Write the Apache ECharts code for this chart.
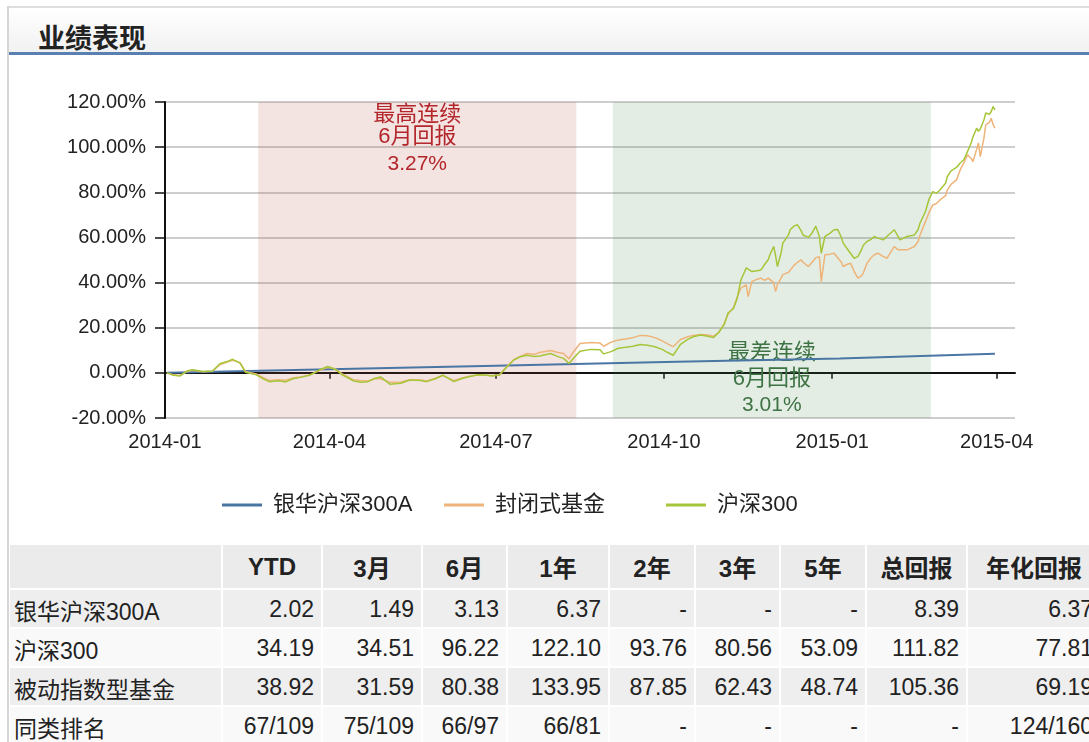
<!DOCTYPE html>
<html>
<head>
<meta charset="utf-8">
<title>业绩表现</title>
<script src="https://cdn.jsdelivr.net/npm/echarts@6/dist/echarts.min.js"></script>
<style>
  html, body { margin: 0; padding: 0; background: #fff; width: 1089px; height: 742px; overflow: hidden; }
  body { position: relative; font-family: "Liberation Sans", Arial, "Noto Sans CJK SC", sans-serif; color: #222; }
  .frame-left { position: absolute; left: 7px; top: 6px; width: 2px; bottom: 0; background: #d6d6d6; }
  .panel-head {
    position: absolute; left: 9px; top: 6px; right: 0; height: 44px;
    border-top: 2px solid #dedede; border-bottom: 3px solid #5a80b2;
    background: linear-gradient(#ffffff, #f1f1f1);
  }
  .panel-head h2 {
    position: absolute; left: 29px; top: 0; margin: 0;
    line-height: 57px; font-size: 27px; font-weight: bold; color: #222;
    font-family: "Noto Sans CJK SC", sans-serif;
  }
  #chart { position: absolute; left: 0; top: 0; width: 1089px; height: 540px; }
  table.perf {
    position: absolute; left: 8px; top: 543px; width: 1094px;
    border-collapse: separate; border-spacing: 2px;
    table-layout: fixed; font-size: 23px; color: #222;
  }
  table.perf td, table.perf th { box-sizing: border-box; padding: 0 7px; white-space: nowrap; overflow: hidden; }
  table.perf th { height: 43px; background: #ebebeb; font-weight: bold; font-size: 24px; text-align: center; }
  table.perf td { height: 37px; padding-top: 2px; text-align: right; }
  table.perf td.name { text-align: left; padding-left: 4px; }
  table.perf tr.odd td { background: #eeeeee; }
  table.perf tr.even td { background: #f9f9f9; }
</style>
</head>
<body>
<div class="frame-left"></div>
<div class="panel-head"><h2>业绩表现</h2></div>
<div id="chart"></div>
<table class="perf" id="perf"></table>
<script>
// 累计收益走势 (%)
const tickMonths = ['2014-01', '2014-04', '2014-07', '2014-10', '2015-01', '2015-04']
const xRange = ['2014-01-01', '2015-04-11']

const dates = [
  '2014-01-02', '2014-01-05', '2014-01-09', '2014-01-13', '2014-01-16', '2014-01-22', '2014-01-27', '2014-01-31',
  '2014-02-04', '2014-02-07', '2014-02-11', '2014-02-14', '2014-02-20', '2014-02-24', '2014-02-27',
  '2014-03-04', '2014-03-08', '2014-03-12', '2014-03-16', '2014-03-21', '2014-03-27', '2014-03-31',
  '2014-04-04', '2014-04-08', '2014-04-14', '2014-04-18', '2014-04-22', '2014-04-26', '2014-04-29',
  '2014-05-04', '2014-05-10', '2014-05-15', '2014-05-21', '2014-05-24', '2014-05-29',
  '2014-06-02', '2014-06-08', '2014-06-13', '2014-06-17', '2014-06-21', '2014-06-25', '2014-06-29',
  '2014-07-03', '2014-07-07', '2014-07-11', '2014-07-14', '2014-07-18', '2014-07-22', '2014-07-25', '2014-07-31',
  '2014-08-04', '2014-08-07', '2014-08-10', '2014-08-12', '2014-08-16', '2014-08-22', '2014-08-27', '2014-08-29',
  '2014-09-02', '2014-09-06', '2014-09-10', '2014-09-14', '2014-09-18', '2014-09-22', '2014-09-26', '2014-09-30',
  '2014-10-03', '2014-10-06', '2014-10-10', '2014-10-14', '2014-10-17', '2014-10-21', '2014-10-25', '2014-10-28', '2014-10-31',
  '2014-11-03', '2014-11-05', '2014-11-08', '2014-11-10', '2014-11-12', '2014-11-15', '2014-11-16', '2014-11-18',
  '2014-11-21', '2014-11-23', '2014-11-25', '2014-11-27', '2014-11-28', '2014-11-30',
  '2014-12-01', '2014-12-02', '2014-12-04', '2014-12-05', '2014-12-08', '2014-12-09', '2014-12-11', '2014-12-13',
  '2014-12-15', '2014-12-16', '2014-12-19', '2014-12-21', '2014-12-23', '2014-12-25', '2014-12-26', '2014-12-28', '2014-12-31',
  '2015-01-02', '2015-01-04', '2015-01-06', '2015-01-07', '2015-01-09', '2015-01-11', '2015-01-13', '2015-01-15',
  '2015-01-17', '2015-01-18', '2015-01-20', '2015-01-22', '2015-01-24', '2015-01-26', '2015-01-29', '2015-01-31',
  '2015-02-04', '2015-02-06', '2015-02-07', '2015-02-11', '2015-02-15', '2015-02-17', '2015-02-18', '2015-02-21',
  '2015-02-23', '2015-02-25', '2015-02-27',
  '2015-03-01', '2015-03-04', '2015-03-05', '2015-03-07', '2015-03-10', '2015-03-12', '2015-03-14', '2015-03-16',
  '2015-03-18', '2015-03-19', '2015-03-21', '2015-03-22', '2015-03-23', '2015-03-25', '2015-03-26', '2015-03-28',
  '2015-03-29', '2015-03-30', '2015-03-31'
]

// 沪深300
const hs300 = [
  0, -0.9, -1.4, 0.8, 1.4, 0.6, 0.8, 4.0,
  5.0, 6.0, 4.3, 0.3, -0.9, -2.8, -3.9,
  -3.5, -4.0, -2.6, -2.0, -1.1, 1.5, 2.8,
  1.6, -0.9, -3.5, -4.2, -3.9, -2.4, -1.8,
  -5.0, -4.6, -3.2, -3.4, -3.9, -2.6,
  -1.0, -3.9, -2.4, -1.6, -0.8, -0.9, -1.4,
  -1.0, 2.6, 5.8, 7.0, 7.8, 7.2, 7.5, 8.6,
  7.2, 6.4, 4.2, 6.0, 9.6, 10.4, 10.2, 8.4,
  9.4, 10.9, 11.3, 11.8, 12.6, 12.2, 11.6, 10.4,
  9.0, 7.8, 12.6, 14.8, 16.0, 16.8, 16.2, 15.6, 18.0,
  21.5, 26.5, 28.5, 33.0, 41.0, 46.5, 47.0, 44.9,
  45.2, 45.6, 48.0, 50.1, 52.5, 56.0,
  52.0, 47.1, 53.0, 57.5, 61.0, 63.4, 65.0, 65.6,
  63.0, 61.1, 60.0, 62.0, 65.0, 60.4, 53.0, 60.4, 62.0,
  63.4, 63.5, 60.0, 57.5, 55.2, 53.0, 50.8, 51.5,
  54.5, 56.5, 58.2, 59.0, 60.4, 59.7, 58.9, 60.5,
  63.4, 60.5, 58.9, 60.4, 61.1, 63.5, 66.3, 71.5,
  77.0, 80.3, 79.5,
  81.1, 84.0, 87.0, 89.5, 91.0, 93.0, 94.4, 98.0,
  101.8, 104.5, 108.4, 107.0, 108.0, 112.0, 115.1, 114.5,
  115.8, 118.0, 116.5
]

// 封闭式基金
const closedFund = [
  0, -0.7, -1.2, 0.6, 1.2, 0.5, 0.7, 3.6,
  4.8, 5.6, 4.6, 0.6, -0.5, -2.2, -3.4,
  -3.0, -3.3, -2.3, -1.8, -1.0, 1.2, 2.5,
  1.8, -0.5, -3.0, -3.4, -3.6, -2.5, -2.6,
  -4.2, -4.0, -3.0, -3.2, -3.6, -2.4,
  -1.2, -3.4, -2.2, -1.4, -0.9, -1.1, -1.2,
  -0.8, 2.8, 6.0, 7.2, 8.6, 8.2, 9.0, 9.9,
  9.0, 8.6, 6.2, 8.8, 13.0, 13.4, 13.2, 11.8,
  13.6, 14.6, 15.0, 15.6, 16.6, 16.4, 15.6, 14.2,
  12.8, 11.6, 14.8, 16.0, 16.6, 17.0, 16.8, 16.2, 18.0,
  22.0, 26.0, 29.0, 33.5, 37.5, 39.0, 33.8, 40.4,
  41.5, 42.0, 41.0, 42.0, 42.0, 40.0,
  36.0, 39.0, 42.0, 43.5, 44.5, 44.9, 47.5, 49.0,
  50.1, 49.0, 47.1, 49.0, 51.0, 51.5, 40.4, 52.3, 52.6,
  53.0, 51.0, 49.0, 47.1, 48.0, 48.6, 45.0, 42.0,
  43.0, 44.2, 48.5, 50.8, 52.3, 53.0, 51.5, 50.8,
  56.0, 54.5, 53.7, 54.5, 56.0, 58.2, 61.0, 67.0,
  71.0, 74.4, 75.0,
  76.6, 78.5, 81.1, 83.5, 85.5, 89.9, 93.0, 96.6,
  95.0, 93.6, 99.0, 101.8, 95.8, 104.0, 109.9, 111.0,
  112.8, 110.0, 108.4
]

// 银华沪深300A
const fundADates = ['2014-01-02', '2014-04-01', '2014-07-01', '2014-10-08', '2015-01-05', '2015-03-31']
const fundA = [0, 1.6, 3.2, 4.9, 6.4, 8.5]

// 最高 / 最差连续6月回报区间
const bestPeriod = ['2014-02-21', '2014-08-14']
const bestReturn = 3.27
const worstPeriod = ['2014-09-03', '2015-02-24']
const worstReturn = 3.01

const seriesNames = ['银华沪深300A', '封闭式基金', '沪深300']

// 表格
const tableHeaders = ['', 'YTD', '3月', '6月', '1年', '2年', '3年', '5年', '总回报', '年化回报']
const tableRows = [
  ['银华沪深300A', '2.02', '1.49', '3.13', '6.37', '-', '-', '-', '8.39', '6.37'],
  ['沪深300', '34.19', '34.51', '96.22', '122.10', '93.76', '80.56', '53.09', '111.82', '77.81'],
  ['被动指数型基金', '38.92', '31.59', '80.38', '133.95', '87.85', '62.43', '48.74', '105.36', '69.19'],
  ['同类排名', '67/109', '75/109', '66/97', '66/81', '-', '-', '-', '-', '124/160']
]
const colWidths = [211, 98, 98, 83, 100, 84, 83, 84, 99, 132]

function buildTable () {
  const table = document.getElementById('perf')
  let html = '<colgroup>' + colWidths.map(w => '<col style="width:' + w + 'px">').join('') + '</colgroup>'
  html += '<tr>' + tableHeaders.map(h => '<th>' + h + '</th>').join('') + '</tr>'
  tableRows.forEach((row, i) => {
    html += '<tr class="' + (i % 2 === 0 ? 'odd' : 'even') + '">' +
      row.map((c, j) => '<td' + (j === 0 ? ' class="name"' : '') + '>' + c + '</td>').join('') + '</tr>'
  })
  table.innerHTML = html
}
buildTable()

const FONT = '"Liberation Sans", Arial, "Noto Sans CJK SC", sans-serif'
const ts = s => new Date(s.length === 7 ? s + '-01T00:00:00' : s + 'T00:00:00').getTime()
const toPairs = (xs, ys) => xs.map((d, i) => [ts(d), ys[i]])
const monthTicks = tickMonths.map(ts)

const chart = echarts.init(document.getElementById('chart'))
window.addEventListener('resize', () => { chart.resize() })

chart.setOption({
  animation: false,
  textStyle: { fontFamily: FONT },
  color: ['#4a76a4', '#eeb479', '#a6c63a'],
  grid: { left: 165, right: 74, top: 102, bottom: 122 },
  legend: {
    data: seriesNames,
    left: 217,
    top: 488,
    icon: 'rect',
    itemWidth: 40,
    itemHeight: 3,
    itemGap: 11,
    textStyle: { fontSize: 22, color: '#222', width: 160, lineHeight: 24, padding: [0, 0, 0, 6] }
  },
  xAxis: {
    // 时间戳作数值轴, 刻度按季度月初
    type: 'value',
    min: ts(xRange[0]),
    max: ts(xRange[1]),
    axisLine: { lineStyle: { color: '#111', width: 2 } },
    axisTick: { show: true, length: 6, customValues: monthTicks, lineStyle: { color: '#111', width: 1.5 } },
    axisLabel: {
      customValues: monthTicks,
      margin: 14,
      fontSize: 20,
      color: '#222',
      formatter: v => {
        const d = new Date(v)
        return d.getFullYear() + '-' + String(d.getMonth() + 1).padStart(2, '0')
      }
    },
    splitLine: { show: false }
  },
  yAxis: {
    type: 'value',
    min: -20,
    max: 120,
    interval: 20,
    axisLine: { show: true, lineStyle: { color: '#111', width: 2 } },
    axisTick: { show: true, length: 10, lineStyle: { color: '#111', width: 1.5 } },
    axisLabel: { fontSize: 20, color: '#222', margin: 19, formatter: v => v.toFixed(2) + '%' },
    splitLine: { lineStyle: { color: '#bdbdbd', width: 1.5 } }
  },
  series: [
    {
      name: seriesNames[0],
      type: 'line',
      data: toPairs(fundADates, fundA),
      showSymbol: false,
      lineStyle: { width: 2 },
      markArea: {
        silent: true,
        data: [
          [{
            xAxis: ts(bestPeriod[0]),
            itemStyle: { color: 'rgba(175, 68, 55, 0.15)' },
            label: {
              show: true,
              position: 'insideTop',
              distance: 2,
              formatter: '{a|最高连续}\n{a|6月回报}\n{b|' + bestReturn.toFixed(2) + '%}',
              rich: {
                a: { fontSize: 22, lineHeight: 22, color: '#b3262b', fontFamily: FONT },
                b: { fontSize: 21, lineHeight: 32, color: '#b3262b', fontFamily: FONT }
              }
            }
          }, { xAxis: ts(bestPeriod[1]) }],
          [{
            xAxis: ts(worstPeriod[0]),
            itemStyle: { color: 'rgba(68, 135, 75, 0.15)' },
            label: {
              show: true,
              position: 'insideBottom',
              distance: 0,
              formatter: '{a|最差连续}\n{a|6月回报}\n{b|' + worstReturn.toFixed(2) + '%}',
              rich: {
                a: { fontSize: 22, lineHeight: 26, color: '#3e7344', fontFamily: FONT },
                b: { fontSize: 21, lineHeight: 26, color: '#3e7344', fontFamily: FONT }
              }
            }
          }, { xAxis: ts(worstPeriod[1]) }]
        ]
      }
    },
    {
      name: seriesNames[1],
      type: 'line',
      data: toPairs(dates, closedFund),
      showSymbol: false,
      lineStyle: { width: 1.5 }
    },
    {
      name: seriesNames[2],
      type: 'line',
      data: toPairs(dates, hs300),
      showSymbol: false,
      lineStyle: { width: 1.5 }
    }
  ]
})
</script>
</body>
</html>
